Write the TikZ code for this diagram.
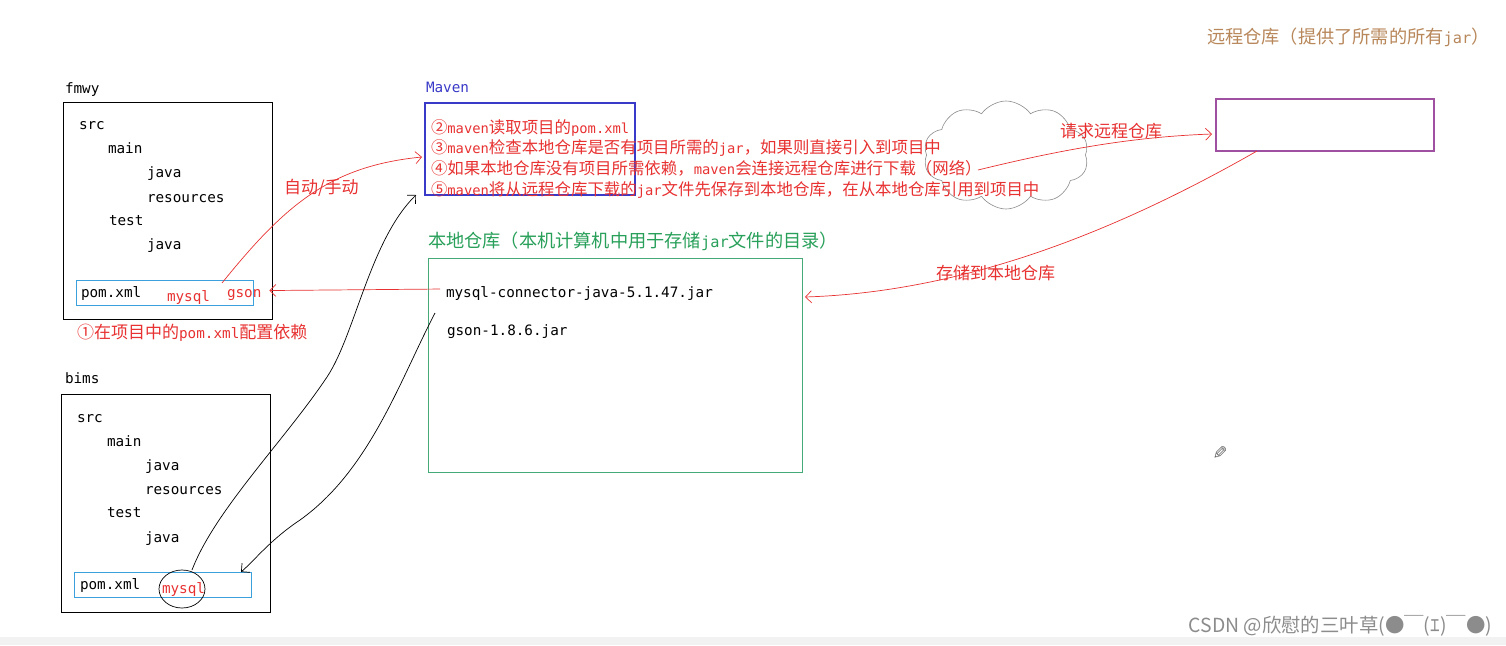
\documentclass[tikz,border=0pt]{standalone}
\usepackage{fontspec}
\setmainfont{DejaVu Sans Mono}
\newfontfamily\cjk[Scale=1.19]{Noto Sans CJK SC}
\newfontfamily\wmfont{Noto Sans CJK SC}
\newfontfamily\symfont{DejaVu Sans}
\usetikzlibrary{shapes.symbols,shapes.geometric,arrows.meta}
\newcommand\zh[1]{{\cjk #1}}
\definecolor{myred}{RGB}{232,50,50}
\definecolor{mvblue}{RGB}{58,58,200}
\definecolor{pomblue}{RGB}{60,160,220}
\definecolor{lgreen}{RGB}{70,170,120}
\definecolor{tgreen}{RGB}{40,160,90}
\definecolor{rpurple}{RGB}{160,80,160}
\definecolor{rbrown}{RGB}{184,135,90}
\begin{document}
\begin{tikzpicture}[x=1pt,y=-1pt,
  every node/.style={inner sep=0pt,outer sep=0pt},
  tx/.style={anchor=base west,font=\fontsize{14.3}{17}\selectfont},
  rtx/.style={tx,text=myred},
  mvtx/.style={anchor=base west,text=myred,font=\fontsize{13.8}{17}\selectfont},
  ttl/.style={anchor=base west,font=\fontsize{15.3}{18}\selectfont},
  boxnode/.style={anchor=north west},
  redarr/.style={draw=myred,line width=0.7pt,-{Straight Barb[length=6pt,width=12pt]}},
  blkarr/.style={draw=black,line width=0.7pt,-{Straight Barb[length=6pt,width=12pt]}}
]
\useasboundingbox (0,0) rectangle (1506,645);
\fill[white] (0,0) rectangle (1506,645);
\fill[black!5] (0,637) rectangle (1506,645);

% ---------- boxes ----------
\node[boxnode,draw=black,line width=1pt,minimum width=209pt,minimum height=217pt] (fmwyBox) at (63,102) {};
\node[boxnode,draw=pomblue,line width=1pt,minimum width=177pt,minimum height=25pt] (fmwyPom) at (76,280) {};
\node[boxnode,draw=black,line width=1pt,minimum width=209pt,minimum height=218pt] (bimsBox) at (61,394) {};
\node[boxnode,draw=pomblue,line width=1pt,minimum width=177pt,minimum height=25pt] (bimsPom) at (74,572) {};
\node[boxnode,draw=mvblue,line width=2.4pt,minimum width=210pt,minimum height=92pt] (mavenBox) at (425,103) {};
\node[boxnode,draw=lgreen,line width=1pt,minimum width=374pt,minimum height=214pt] (localBox) at (428,258) {};
\node[boxnode,draw=rpurple,line width=2.4pt,minimum width=218pt,minimum height=52pt] (remoteBox) at (1216,99) {};
\node[cloud,draw=black!45,line width=0.6pt,cloud puffs=10,cloud puff arc=110,cloud ignores aspect,minimum width=165pt,minimum height=108pt] (net) at (1006,155) {};
\node[ellipse,draw=black,line width=0.7pt,minimum width=46pt,minimum height=38pt] (circ) at (182,589) {};

% ---------- fmwy ----------
\node[tx] (fmwyLbl) at (65,93) {fmwy};
\node[tx] (f1) at (79,129) {src};
\node[tx] (f2) at (108,153) {main};
\node[tx] (f3) at (147,177) {java};
\node[tx] (f4) at (147,202) {resources};
\node[tx] (f5) at (109,225) {test};
\node[tx] (f6) at (147,249) {java};
\node[tx] (fPomTxt) at (81,297) {pom.xml};
\node[rtx] (fMysql) at (167,301) {mysql};
\node[rtx] (fGson) at (227,297) {gson};
\node[rtx] (step1) at (77,338) {\zh{①在项目中的}pom.xml\zh{配置依赖}};

% ---------- bims ----------
\node[tx] (bimsLbl) at (65,383) {bims};
\node[tx] (b1) at (77,422) {src};
\node[tx] (b2) at (107,446) {main};
\node[tx] (b3) at (145,470) {java};
\node[tx] (b4) at (145,494) {resources};
\node[tx] (b5) at (107,517) {test};
\node[tx] (b6) at (145,542) {java};
\node[tx] (bPomTxt) at (80,589) {pom.xml};
\node[rtx] (bMysql) at (162,593) {mysql};

% ---------- Maven ----------
\node[tx,text=mvblue] (mavenLbl) at (426,92) {Maven};
\node[mvtx] (line2) at (431,133) {\zh{②}maven\zh{读取项目的}pom.xml};
\node[mvtx] (line3) at (431,153) {\zh{③}maven\zh{检查本地仓库是否有项目所需的}jar\zh{，如果则直接引入到项目中}};
\node[mvtx] (line4) at (431,174) {\zh{④如果本地仓库没有项目所需依赖，}maven\zh{会连接远程仓库进行下载（网络）}};
\node[mvtx] (line5) at (431,195) {\zh{⑤}maven\zh{将从远程仓库下载的}jar\zh{文件先保存到本地仓库，在从本地仓库引用到项目中}};

% ---------- local repo ----------
\node[ttl,text=tgreen] (localLbl) at (428,247) {\zh{本地仓库（本机计算机中用于存储}jar\zh{文件的目录）}};
\node[tx] (mysqlJar) at (446,297) {mysql-connector-java-5.1.47.jar};
\node[tx] (gsonJar) at (447,335) {gson-1.8.6.jar};

% ---------- remote repo ----------
\node[ttl,text=rbrown] (remoteLbl) at (1207,43) {\zh{远程仓库（提供了所需的所有}jar\zh{）}};

% ---------- connectors ----------
\coordinate (autoStart) at (222,283);
\draw[redarr] (autoStart) .. controls (285,205) and (330,166) .. ([xshift=-3pt,yshift=-8pt]mavenBox.west);
\node[rtx] (autoLbl) at (284,193) {\zh{自动/手动}};

\draw[redarr] ([xshift=-6pt,yshift=4pt]mysqlJar.west) -- ([xshift=8pt,yshift=4pt]fGson.east);

\coordinate (reqStart) at (978,170);
\draw[redarr] (reqStart) .. controls (1060,150) and (1130,137) .. ([xshift=-4pt,yshift=-9pt]remoteBox.west);
\node[rtx] (reqLbl) at (1060,137) {\zh{请求远程仓库}};

\coordinate (storeStart) at ([xshift=41pt]remoteBox.south west);
\coordinate (storeEnd) at ([xshift=3pt]localBox.east |- mysqlJar.base);
\draw[redarr] (storeStart) .. controls (1110,235) and (960,292) .. (storeEnd);
\node[rtx] (storeLbl) at (936,279) {\zh{存储到本地仓库}};

\draw[blkarr] ([xshift=10pt]circ.north) .. controls (215,510) and (285,440) .. (327,377)
   .. controls (355,335) and (370,240) .. ([xshift=-9pt]mavenBox.south west);

\coordinate (locStart) at (435,313);
\draw[blkarr] (locStart) .. controls (400,380) and (370,470) .. (300,520)
   .. controls (270,540) and (255,560) .. ([xshift=-10pt]bimsPom.north east);

% ---------- misc ----------
\node[font=\symfont\fontsize{18}{18}\selectfont,text=black!60,xscale=-1] (pencil) at (1220,453) {✎};
\node[anchor=base east,font=\wmfont\fontsize{19.4}{20}\selectfont,text=black!45] (wm) at (1492,632) {CSDN @欣慰的三叶草(●￣(ｴ)￣●)};
\end{tikzpicture}
\end{document}
